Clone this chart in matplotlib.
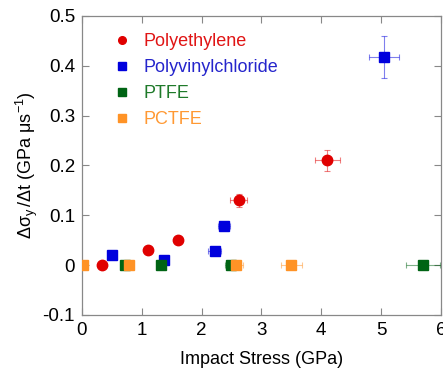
import matplotlib
matplotlib.use("Agg")
import matplotlib.pyplot as plt

plt.rcParams['font.family'] = ['Liberation Sans', 'DejaVu Sans']
plt.rcParams['mathtext.fontset'] = 'custom'
plt.rcParams['mathtext.rm'] = 'Liberation Sans'
plt.rcParams['mathtext.it'] = 'Liberation Sans'
plt.rcParams['mathtext.bf'] = 'Liberation Sans:bold'

# Polyethylene
pe_x = [0.33, 1.10, 1.61, 2.62, 4.10]
pe_y = [0.0, 0.03, 0.05, 0.13, 0.21]
pe_xerr = [0.0, 0.0, 0.05, 0.14, 0.21]
pe_yerr = [0.0, 0.0, 0.0, 0.013, 0.022]

# Polyvinylchloride
pvc_x = [0.51, 1.38, 2.22, 2.38, 5.05]
pvc_y = [0.02, 0.011, 0.028, 0.078, 0.418]
pvc_xerr = [0.0, 0.0, 0.11, 0.10, 0.25]
pvc_yerr = [0.0, 0.0, 0.0, 0.0, 0.042]

# PTFE
ptfe_x = [0.72, 1.33, 2.50, 5.70]
ptfe_y = [0.0, 0.0, 0.0, 0.0]
ptfe_xerr = [0.0, 0.0, 0.10, 0.29]

# PCTFE
pctfe_x = [0.02, 0.78, 2.57, 3.50]
pctfe_y = [0.0, 0.0, 0.0, 0.0]
pctfe_xerr = [0.0, 0.0, 0.13, 0.18]

labels = ['Polyethylene', 'Polyvinylchloride', 'PTFE', 'PCTFE']
colors = ['#e00000', '#0000dd', '#006414', '#ff9326']
text_colors = ['#e01515', '#2525cc', '#1f7a2a', '#ff9933']

fig = plt.figure(figsize=(4.43, 3.71), dpi=100)
ax = fig.add_axes([0.185, 0.151, 0.81, 0.806])

series = [
    (pe_x, pe_y, pe_xerr, pe_yerr, 'o', 7.5),
    (pvc_x, pvc_y, pvc_xerr, pvc_yerr, 's', 7.5),
    (ptfe_x, ptfe_y, ptfe_xerr, [0] * len(ptfe_x), 's', 7.5),
    (pctfe_x, pctfe_y, pctfe_xerr, [0] * len(pctfe_x), 's', 7.5),
]
handles = []
for (x, y, xe, ye, m, ms), c, lab in zip(series, colors, labels):
    ax.errorbar(x, y, xerr=xe, yerr=ye, fmt='none', ecolor=c, elinewidth=0.8,
                capsize=2, capthick=0.8, alpha=0.5, zorder=2)
    h, = ax.plot(x, y, linestyle='none', marker=m, markersize=ms, color=c,
                 markeredgecolor=c, label=lab, zorder=3)
    handles.append(h)

ax.set_xlim(0, 6)
ax.set_ylim(-0.1, 0.5)
ax.set_xticks([0, 1, 2, 3, 4, 5, 6])
ax.set_yticks([-0.1, 0, 0.1, 0.2, 0.3, 0.4, 0.5])
ax.set_yticklabels(['-0.1', '0', '0.1', '0.2', '0.3', '0.4', '0.5'])
ax.tick_params(direction='in', top=True, right=True, length=5, width=0.8,
               color='#888888', labelsize=13.5, pad=5)
for s in ax.spines.values():
    s.set_color('#888888')
    s.set_linewidth(0.9)

ax.set_xlabel('Impact Stress (GPa)', fontsize=13, labelpad=9)
ax.set_ylabel(r'$\Delta\sigma_y\,/\Delta t$ (GPa $\mu$s$^{-1}$)', fontsize=13, labelpad=2)

leg = ax.legend(handles=handles, loc='upper left', frameon=False, fontsize=13,
                handletextpad=0.65, handlelength=1.0, borderaxespad=0.55,
                bbox_to_anchor=(0.04, 1.0), labelspacing=0.5)
for t, c in zip(leg.get_texts(), text_colors):
    t.set_color(c)
for lh in leg.legend_handles:
    lh.set_markersize(5.5)

fig.savefig('out.png', dpi=100)
